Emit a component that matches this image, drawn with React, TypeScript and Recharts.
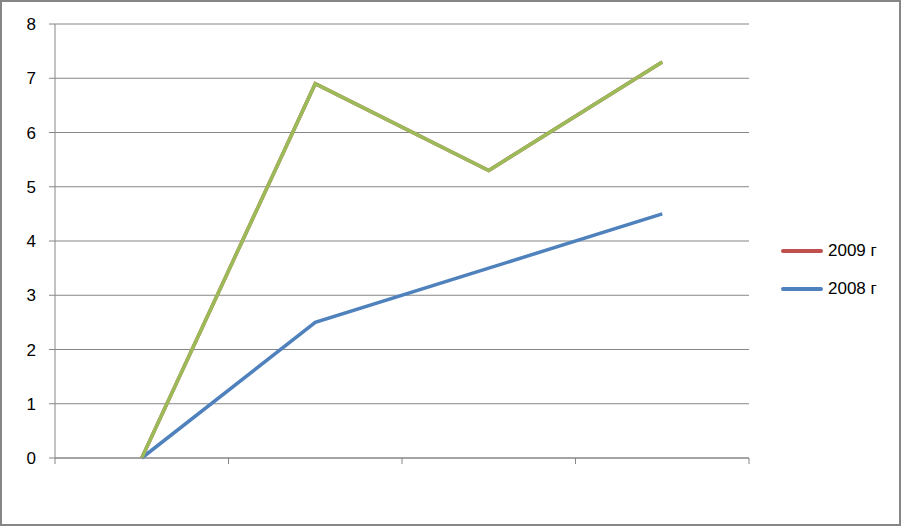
import React from "react";
import { CartesianGrid, Line, LineChart, XAxis, YAxis } from "recharts";

// four unlabelled categories
const categories = ["1", "2", "3", "4"];
const values2009 = [0, 6.9, 5.3, 7.3];
const values2008 = [0, 2.5, 3.5, 4.5];
const valuesExtra = [0, 6.9, 5.3, 7.3];
const yTicks = [0, 1, 2, 3, 4, 5, 6, 7, 8];

const gridColor = "#868686";
const font = "'Liberation Sans', Arial, sans-serif";

const series = [
  { key: "y2009", name: "2009 г", color: "#C0504D", values: values2009, legend: true },
  { key: "y2008", name: "2008 г", color: "#4F81BD", values: values2008, legend: true },
  { key: "extra", name: "extra", color: "#9BBB59", values: valuesExtra, legend: false }
];

// x sits in the middle of each category slot, ticks mark the slot edges
const data = categories.map((c, i) => {
  const row: Record<string, number | string> = { name: c, x: i + 0.5 };
  series.forEach((s) => {
    row[s.key] = s.values[i];
  });
  return row;
});
const xTicks = [0, ...categories.map((_, i) => i + 1)];

const NoLabel = () => <g />;

export default function App() {
  return (
    <div
      style={{
        position: "absolute",
        left: 0,
        top: 0,
        width: 901,
        height: 526,
        boxSizing: "border-box",
        border: `2px solid ${gridColor}`,
        background: "#fff",
        fontFamily: font
      }}
    >
      <LineChart
        width={897}
        height={522}
        data={data}
        margin={{ top: 22, right: 150, bottom: 0, left: 0 }}
      >
        <CartesianGrid vertical={false} stroke={gridColor} strokeWidth={1} />
        <XAxis
          dataKey="x"
          type="number"
          domain={[0, categories.length]}
          ticks={xTicks}
          interval={0}
          tick={NoLabel}
          tickSize={6}
          height={66}
          axisLine={{ stroke: gridColor }}
          tickLine={{ stroke: gridColor }}
        />
        <YAxis
          domain={[0, 8]}
          ticks={yTicks}
          width={53}
          tickSize={6}
          tickMargin={13}
          interval={0}
          axisLine={{ stroke: gridColor }}
          tickLine={{ stroke: gridColor }}
          tick={{ fill: "#000", fontSize: 17, fontFamily: font }}
        />
        {series.map((s) => (
          <Line
            key={s.key}
            dataKey={s.key}
            name={s.name}
            stroke={s.color}
            strokeWidth={3.5}
            dot={false}
            activeDot={false}
            legendType={s.legend ? "line" : "none"}
            isAnimationActive={false}
          />
        ))}
      </LineChart>
      <div style={{ position: "absolute", left: 779, top: 230 }}>
        {series
          .filter((s) => s.legend)
          .map((s) => (
            <div
              key={s.key}
              style={{ display: "flex", alignItems: "center", height: 38 }}
            >
              <div
                style={{
                  width: 42,
                  height: 3.5,
                  borderRadius: 2,
                  background: s.color,
                  marginRight: 5
                }}
              />
              <span style={{ fontSize: 17, color: "#000" }}>{s.name}</span>
            </div>
          ))}
      </div>
    </div>
  );
}
